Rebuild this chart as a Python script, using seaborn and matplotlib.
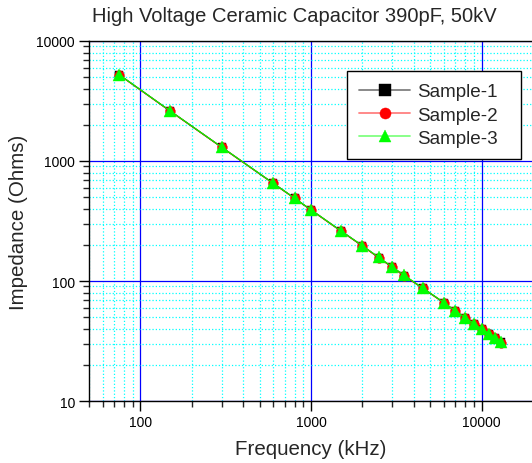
import numpy as np
import matplotlib
matplotlib.use("Agg")
import matplotlib.pyplot as plt
import pandas as pd
import seaborn as sns
from matplotlib.ticker import LogLocator, NullFormatter

# Frequencies in kHz
freq = [75, 150, 300, 600, 800, 1000, 1500, 2000, 2500, 3000, 3500, 4500,
        6000, 7000, 8000, 9000, 10000, 11000, 12000, 13000]
# Impedance (Ohms)
sample1 = [5240, 2600, 1300, 652, 490, 391, 261, 196, 156, 130, 111, 87.4,
           66.0, 56.2, 49.5, 44.1, 39.8, 36.4, 33.3, 30.8]
sample2 = [5230, 2595, 1298, 651, 489, 390, 260, 196, 156, 130, 111, 87.2,
           65.8, 56.1, 49.4, 44.0, 39.7, 36.3, 33.2, 30.7]
sample3 = [5250, 2605, 1302, 653, 490, 392, 261, 197, 157, 131, 112, 87.6,
           66.2, 56.4, 49.6, 44.2, 39.9, 36.5, 33.4, 30.9]
names = ["Sample-1", "Sample-2", "Sample-3"]

df = pd.DataFrame({
    "Frequency": freq * 3,
    "Impedance": sample1 + sample2 + sample3,
    "Sample": [names[0]] * len(freq) + [names[1]] * len(freq) + [names[2]] * len(freq),
})

sns.set_style("ticks")
plt.rcParams['font.family'] = ['Liberation Sans', 'DejaVu Sans']

fig = plt.figure(figsize=(5.32, 4.64), dpi=100)
ax = fig.add_axes([0.1673, 0.1336, 0.8327, 0.7759])

colors = ["#000000", "#ff0000", "#00ff00"]
markers = ["s", "o", "^"]
msizes = [6, 7, 8.5]
for name, c, m, ms in zip(names, colors, markers, msizes):
    sns.lineplot(data=df[df["Sample"] == name], x="Frequency", y="Impedance",
                 ax=ax, color=c, marker=m, markersize=ms, markeredgewidth=0.3,
                 markeredgecolor=c, linewidth=0.9, label=name, zorder=5)

ax.set_xscale("log")
ax.set_yscale("log")
ax.set_xlim(50, 19700)
ax.set_ylim(10, 10000)

ax.xaxis.set_major_locator(LogLocator(base=10))
ax.xaxis.set_minor_locator(LogLocator(base=10, subs=np.arange(2, 10)))
ax.yaxis.set_major_locator(LogLocator(base=10))
ax.yaxis.set_minor_locator(LogLocator(base=10, subs=np.arange(2, 10)))
ax.xaxis.set_minor_formatter(NullFormatter())
ax.yaxis.set_minor_formatter(NullFormatter())
ax.set_xticks([100, 1000, 10000])
ax.set_xticklabels(["100", "1000", "10000"])
ax.set_yticks([10, 100, 1000, 10000])
ax.set_yticklabels(["10", "100", "1000", "10000"])

ax.grid(True, which="minor", color="#00ffff", linestyle=":", linewidth=0.9)
ax.grid(True, which="major", color="#0000ff", linestyle="-", linewidth=0.9)
ax.set_axisbelow(True)

ax.tick_params(which="major", direction="out", length=7, width=1, labelsize=10,
               colors="black", pad=3)
ax.tick_params(which="minor", direction="out", length=4, width=1)

for s in ["left", "bottom", "top"]:
    ax.spines[s].set_color("black")
    ax.spines[s].set_linewidth(1.0)
ax.spines["right"].set_visible(False)

ax.set_xlabel("Frequency (kHz)", fontsize=14.8, labelpad=7)
ax.set_ylabel("Impedance (Ohms)", fontsize=14.8, labelpad=6)
fig.text(294 / 532, 1 - 22 / 464, "High Voltage Ceramic Capacitor 390pF, 50kV",
         fontsize=14.5, ha="center", va="baseline")

# expand mode leaves the spare width on the right, like the original box
leg = ax.legend(loc="upper left", bbox_to_anchor=(0.5824, 0.5, 0.3928, 0.4167),
                mode="expand", fontsize=13.6,
                frameon=True, fancybox=False, handlelength=2.7, borderpad=0.65,
                labelspacing=0.32, handletextpad=0.35, borderaxespad=0)
leg.get_frame().set_edgecolor("black")
leg.get_frame().set_linewidth(1.0)
leg.get_frame().set_alpha(1)
legline_colors = ["#808080", "#ff8080", "#80ff80"]
for line, lc, c in zip(leg.get_lines(), legline_colors, colors):
    line.set_linewidth(1.3)
    line.set_color(lc)
    line.set_markerfacecolor(c)
    line.set_markeredgecolor(c)
    line.set_markersize(8)

fig.savefig("out.png", dpi=100)
